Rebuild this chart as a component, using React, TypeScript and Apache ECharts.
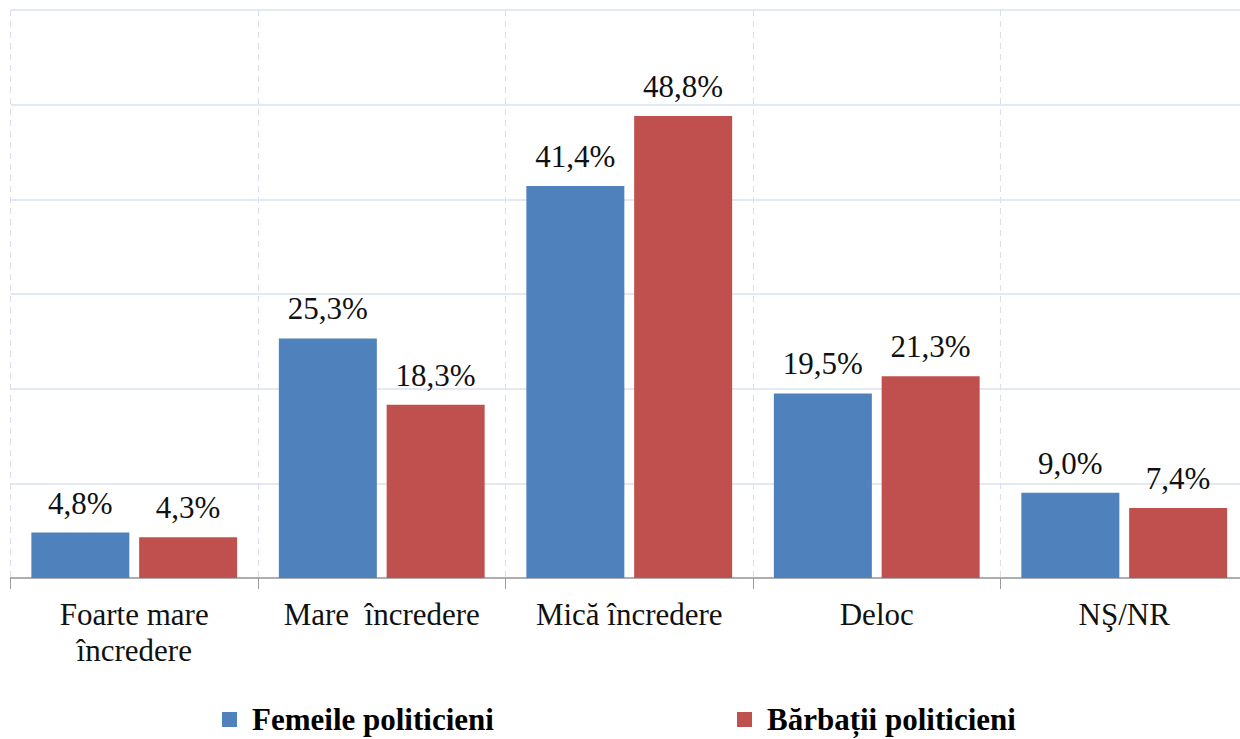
import React, { useEffect, useRef } from "react";
import * as echarts from "echarts";

const categories = ["Foarte mare\nîncredere", "Mare  încredere", "Mică încredere", "Deloc", "NŞ/NR"];
const seriesNames = ["Femeile politicieni", "Bărbații politicieni"];
const femei = [4.8, 25.3, 41.4, 19.5, 9.0];
const barbati = [4.3, 18.3, 48.8, 21.3, 7.4];

const fmt = (p: any) => p.value.toFixed(1).replace(".", ",") + "%";

export default function App() {
  const ref = useRef<HTMLDivElement>(null);
  useEffect(() => {
    const chart = echarts.init(ref.current!, null, { renderer: "svg" });
    const font = "Liberation Serif";
    const labelCfg = {
      show: true,
      position: "top",
      distance: 14,
      formatter: fmt,
      fontFamily: font,
      fontSize: 31,
      color: "#111111",
    };
    const legendText = {
      fontFamily: font,
      fontWeight: "bold",
      fontSize: 31,
      color: "#000",
      padding: [0, 0, 0, 10],
    };
    const legendBase = {
      top: 704,
      padding: 0,
      itemWidth: 15,
      itemHeight: 15,
      icon: "rect",
      itemGap: 0,
      textStyle: legendText,
    };
    chart.setOption({
      animation: false,
      backgroundColor: "#ffffff",
      grid: { left: 10.5, right: 0, top: 10, bottom: 161 },
      legend: [
        { ...legendBase, data: [seriesNames[0]], left: 222 },
        { ...legendBase, data: [seriesNames[1]], left: 737 },
      ],
      xAxis: {
        type: "category",
        data: categories,
        axisLine: { lineStyle: { color: "#9a9a9a", width: 1.5 } },
        axisTick: { show: true, length: 11, lineStyle: { color: "#9a9a9a" } },
        splitLine: { show: true, lineStyle: { color: "#dcdcf5", type: [6, 5], width: 1 } },
        axisLabel: {
          fontFamily: font,
          fontSize: 31,
          color: "#111111",
          margin: 18,
          lineHeight: 36,
          interval: 0,
        },
      },
      yAxis: {
        type: "value",
        min: 0,
        max: 60,
        interval: 10,
        axisLabel: { show: false },
        axisLine: { show: false },
        axisTick: { show: false },
        splitLine: { lineStyle: { color: "#dae2ef", width: 1.5 } },
      },
      series: [
        {
          name: seriesNames[0],
          type: "bar",
          data: femei,
          barWidth: 98,
          barGap: "10%",
          itemStyle: { color: "#4f81bd" },
          label: labelCfg,
        },
        {
          name: seriesNames[1],
          type: "bar",
          data: barbati,
          barWidth: 98,
          barGap: "10%",
          itemStyle: { color: "#c0504d" },
          label: labelCfg,
        },
      ],
    });
    return () => chart.dispose();
  }, []);
  return (
    <div style={{ position: "absolute", left: 0, top: 0, width: 1240, height: 739, overflow: "hidden" }}>
      <div ref={ref} style={{ width: 1248, height: 739 }} />
    </div>
  );
}
